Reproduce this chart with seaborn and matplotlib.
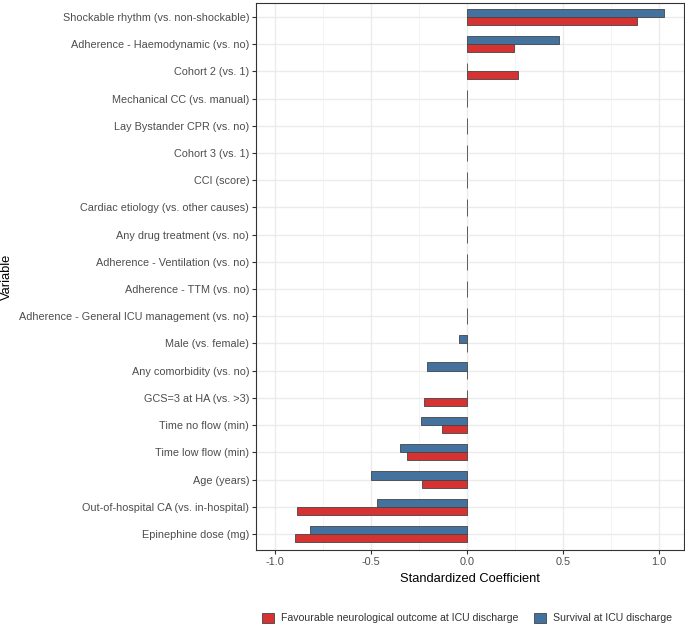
import matplotlib
matplotlib.use("Agg")
import matplotlib.pyplot as plt
import matplotlib.patches as mpatches
from matplotlib.ticker import MultipleLocator
import pandas as pd
import seaborn as sns

variables = [
    "Shockable rhythm (vs. non-shockable)",
    "Adherence - Haemodynamic (vs. no)",
    "Cohort 2 (vs. 1)",
    "Mechanical CC (vs. manual)",
    "Lay Bystander CPR (vs. no)",
    "Cohort 3 (vs. 1)",
    "CCI (score)",
    "Cardiac etiology (vs. other causes)",
    "Any drug treatment (vs. no)",
    "Adherence - Ventilation (vs. no)",
    "Adherence - TTM (vs. no)",
    "Adherence - General ICU management (vs. no)",
    "Male (vs. female)",
    "Any comorbidity (vs. no)",
    "GCS=3 at HA (vs. >3)",
    "Time no flow (min)",
    "Time low flow (min)",
    "Age (years)",
    "Out-of-hospital CA (vs. in-hospital)",
    "Epinephine dose (mg)",
]
survival = [1.027, 0.478, 0.0, 0.0, 0.0, 0.0, 0.0, 0.0, 0.0, 0.0, 0.0, 0.0,
            -0.040, -0.209, 0.0, -0.242, -0.348, -0.498, -0.468, -0.817]
neuro = [0.889, 0.243, 0.268, 0.0, 0.0, 0.0, 0.0, 0.0, 0.0, 0.0, 0.0, 0.0,
         0.0, 0.0, -0.223, -0.129, -0.315, -0.235, -0.886, -0.895]

lab_neuro = "Favourable neurological outcome at ICU discharge"
lab_surv = "Survival at ICU discharge"
colors = {lab_surv: "#44729E", lab_neuro: "#D63232"}

df = pd.concat([
    pd.DataFrame({"Variable": variables, "coef": survival, "Outcome": lab_surv}),
    pd.DataFrame({"Variable": variables, "coef": neuro, "Outcome": lab_neuro}),
])

sns.set_theme(style="white")
plt.rcParams["font.family"] = ["Liberation Sans", "DejaVu Sans"]

fig = plt.figure(figsize=(6.85, 6.26), dpi=100)
ax = fig.add_axes([256 / 685, 1 - 550 / 626, 428 / 685, 547 / 626])

sns.barplot(data=df, y="Variable", x="coef", hue="Outcome", order=variables,
            hue_order=[lab_surv, lab_neuro], palette=colors, orient="h",
            width=0.6, saturation=1, edgecolor="#444444", linewidth=0.6,
            legend=False, ax=ax)

ax.set_xlim(-1.10, 1.132)
ax.set_ylim(len(variables) - 0.41, -0.51)
ax.xaxis.set_minor_locator(MultipleLocator(0.25))
ax.set_xticks([-1.0, -0.5, 0.0, 0.5, 1.0])
ax.set_xticklabels(["-1.0", "-0.5", "0.0", "0.5", "1.0"])
ax.grid(which="major", color="#EBEBEB", linewidth=1.0)
ax.grid(which="minor", axis="x", color="#F3F3F3", linewidth=0.6)
ax.set_axisbelow(True)
for s in ax.spines.values():
    s.set_color("#333333")
    s.set_linewidth(0.8)
ax.tick_params(axis="both", which="major", length=3, width=0.8, color="#333333",
               labelsize=7.85, labelcolor="#4D4D4D", pad=2, left=True, bottom=True)
ax.tick_params(axis="both", which="minor", length=0)
ax.set_xlabel("Standardized Coefficient", fontsize=9.3, color="black", labelpad=4)
ax.set_ylabel("Variable", fontsize=9.3, color="black")
ax.yaxis.set_label_coords(-0.568, 0.5)

handles = [mpatches.Patch(facecolor=colors[lab_neuro], edgecolor="#444444", linewidth=0.6, label=lab_neuro),
           mpatches.Patch(facecolor=colors[lab_surv], edgecolor="#444444", linewidth=0.6, label=lab_surv)]
fig.legend(handles=handles, loc="center", bbox_to_anchor=(467 / 685, 1 - 618 / 626), ncol=2,
           frameon=False, fontsize=7.6, handlelength=1.15, handleheight=1.15,
           handletextpad=0.65, columnspacing=1.5, labelcolor="#333333")

fig.savefig("out.png", dpi=100)
